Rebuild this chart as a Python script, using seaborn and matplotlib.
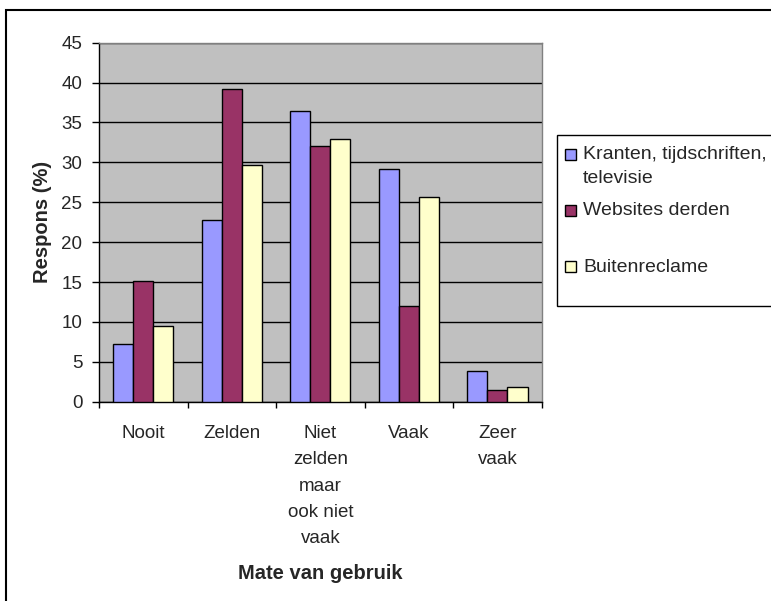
import numpy as np
import pandas as pd
import matplotlib
matplotlib.use("Agg")
import matplotlib.pyplot as plt
import matplotlib.patches as mpatches
import seaborn as sns

# ── DATA ──────────────────────────────────────────────────────
categories = ["Nooit", "Zelden", "Niet\nzelden\nmaar\nook niet\nvaak", "Vaak", "Zeer\nvaak"]
series = ["Kranten, tijdschriften,\ntelevisie", "Websites derden", "Buitenreclame"]
kranten  = [7.2, 22.8, 36.5, 29.2, 3.9]
websites = [15.1, 39.2, 32.1, 12.0, 1.5]
buiten   = [9.5, 29.7, 32.9, 25.7, 1.8]
colors = ["#9999FF", "#993366", "#FFFFCC"]
yticks = [0, 5, 10, 15, 20, 25, 30, 35, 40, 45]

df = pd.DataFrame({
    "Categorie": categories * 3,
    "Serie": [series[0]] * 5 + [series[1]] * 5 + [series[2]] * 5,
    "Respons": kranten + websites + buiten,
})

sns.set_style("ticks")
plt.rcParams["font.family"] = ["Liberation Sans", "DejaVu Sans"]
FS = 13.5
FS_LEG = 14
FS_LAB = 14.5

W, H = 771, 601
fig = plt.figure(figsize=(W / 100, H / 100), dpi=100)
ax = fig.add_axes([99 / W, 1 - 401.7 / H, (541.7 - 99) / W, (401.7 - 42.7) / H])
ax.set_facecolor("#C0C0C0")

sns.barplot(data=df, x="Categorie", y="Respons", hue="Serie", palette=colors,
            order=categories, hue_order=series, width=0.68, gap=0, saturation=1,
            edgecolor="black", linewidth=1, legend=False, ax=ax, zorder=3)

ax.set_ylim(0, 45)
ax.set_xlim(-0.5, len(categories) - 0.5)
ax.set_yticks(yticks)
ax.yaxis.grid(True, color="black", linewidth=1, zorder=0)
ax.set_axisbelow(True)

# x ticks sit between categories, labels centred on categories
ax.set_xticks(np.arange(-0.5, len(categories), 1.0))
ax.set_xticklabels([])
ax.set_xticks(np.arange(len(categories)), minor=True)
ax.set_xticklabels(categories, minor=True, fontsize=FS, linespacing=1.7)
ax.tick_params(axis="x", which="minor", length=0, pad=17)
ax.tick_params(axis="x", which="major", length=4.5, width=1, direction="out", color="black")
ax.tick_params(axis="y", length=5, width=1, direction="out", color="black", labelsize=FS, pad=7)

for s in ["left", "bottom"]:
    ax.spines[s].set_color("black")
    ax.spines[s].set_linewidth(1)
for s in ["top", "right"]:
    ax.spines[s].set_color("#808080")
    ax.spines[s].set_linewidth(1)

ax.set_xlabel("Mate van gebruik", fontsize=FS_LAB, fontweight="bold")
ax.xaxis.set_label_coords(0.5, -(564 - 401.7) / (401.7 - 42.7))
ax.set_ylabel("Respons (%)", fontsize=FS_LAB, fontweight="bold")
ax.yaxis.set_label_coords(-(99 - 52) / (541.7 - 99), 0.5)

# ── LEGEND (drawn by hand, Excel style) ──────────────────────
def fx(px):
    return px / W

def fy(py):
    return 1 - py / H

fig.patches.append(mpatches.Rectangle((fx(557), fy(305.7)), fx(800) - fx(557), fy(135) - fy(305.7),
                                      transform=fig.transFigure, facecolor="white",
                                      edgecolor="black", linewidth=1))
for lbl, col, yc in zip(series, colors, [154, 210, 266.7]):
    fig.patches.append(mpatches.Rectangle((fx(565), fy(yc + 5.5)), fx(11), 11 / H,
                                          transform=fig.transFigure, facecolor=col,
                                          edgecolor="black", linewidth=1))
    fig.text(fx(583), fy(yc - 8), lbl, fontsize=FS_LEG, va="top", ha="left", linespacing=1.55)

# outer chart border
fig.patches.append(mpatches.Rectangle((fx(6), fy(700)), 1, fy(9.5) - fy(700),
                                      transform=fig.transFigure, fill=False,
                                      edgecolor="black", linewidth=1.5))

fig.savefig("out.png", dpi=100)
